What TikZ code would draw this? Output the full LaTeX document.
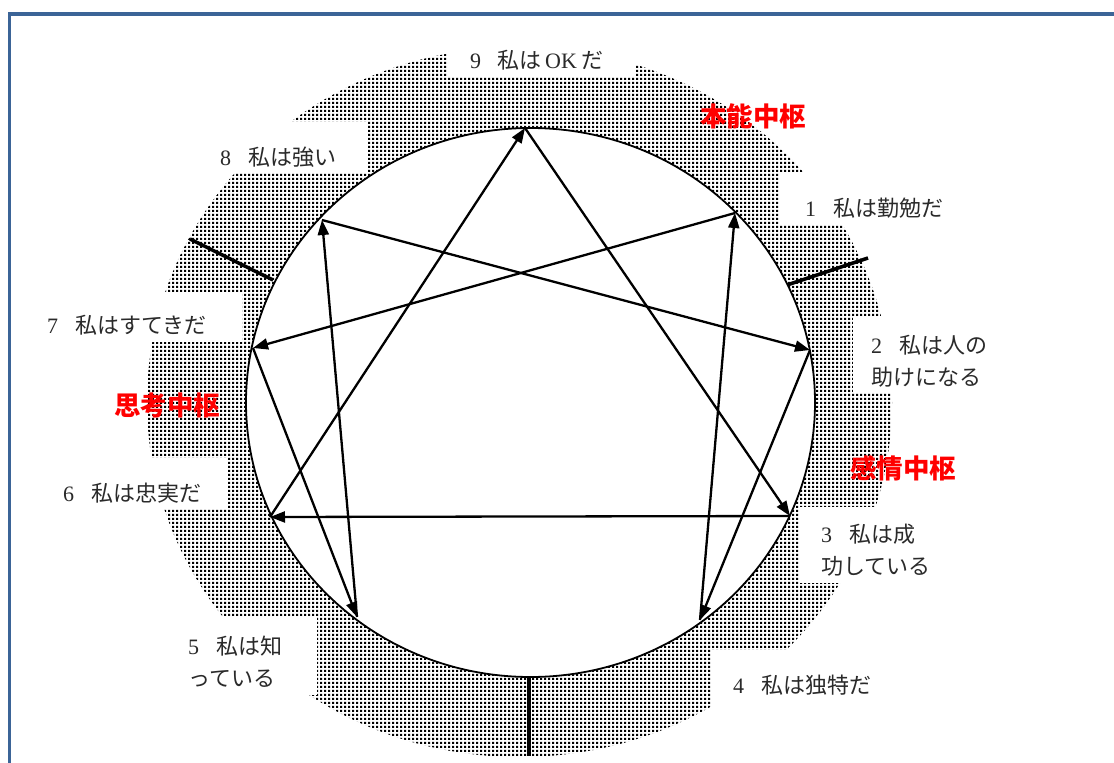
\documentclass[tikz,border=0pt]{standalone}
\usepackage{fontspec}
\newfontfamily\jpf{Noto Sans CJK JP}
\newfontfamily\numf{Liberation Serif}
\usetikzlibrary{arrows.meta,patterns}
\pgfdeclarepatternformonly{sqdots}{\pgfqpoint{0pt}{0pt}}{\pgfqpoint{3.7pt}{3.7pt}}{\pgfqpoint{3.7pt}{3.7pt}}{\pgfpathrectangle{\pgfqpoint{0pt}{0pt}}{\pgfqpoint{2.2pt}{2.2pt}}\pgfusepath{fill}}
\definecolor{frameblue}{HTML}{3B6497}
\definecolor{txt}{HTML}{2A2A2A}
\newcommand\dg[1]{{\numf #1}\hspace{17pt}}
\begin{document}
\begin{tikzpicture}[x=1pt,y=-1pt,
  lbl/.style={anchor=west,inner sep=0pt,text=txt,font=\jpf\fontsize{22}{32}\selectfont,align=left},
  ctr/.style={inner sep=0pt,text=red,font=\jpf\bfseries\fontsize{26.5}{30}\selectfont},
  arr/.style={line width=2.3pt,-{Triangle[length=15pt,width=11pt]}},
  sepline/.style={line width=3.5pt},
  gap/.style={fill=white,draw=none}]
\useasboundingbox (0,0) rectangle (1114,763);
\fill[white] (0,0) rectangle (1114,763);
% dotted ring
\fill[pattern=sqdots] (519.5,402) ellipse [x radius=372.5, y radius=355];
% white label areas
\fill[gap] (447,0) rectangle (635,77);
\fill[gap] (150,122) rectangle (367,173);
\fill[gap] (780,173) rectangle (1060,225);
\fill[gap] (853,317) rectangle (1060,393);
\fill[gap] (800,507) rectangle (1060,583);
\fill[gap] (712,650) rectangle (1060,763);
\fill[gap] (60,617) rectangle (317,695);
\fill[gap] (40,458) rectangle (227,509);
\fill[gap] (40,292) rectangle (242,342);
% frame
\draw[frameblue,line width=3.5pt] (9.5,763) -- (9.5,14) -- (1114,14);
% separators
\coordinate (s1a) at (273,280); \coordinate (s1b) at (190,239);
\coordinate (s2a) at (787,285); \coordinate (s2b) at (868,258);
\coordinate (s3a) at (529,672); \coordinate (s3b) at (529,756);
\draw[sepline] (s1a) -- (s1b);
\draw[sepline] (s2a) -- (s2b);
\draw[sepline] (s3a) -- (s3b);
% inner circle
\draw[line width=1.8pt,fill=white] (530.5,402.5) ellipse [x radius=284.5, y radius=274.5];
% points
\coordinate (p9) at (525,128);
\coordinate (p1) at (735,213);
\coordinate (p2) at (810,350);
\coordinate (p3) at (790,516);
\coordinate (p4) at (700,620);
\coordinate (p5) at (357,617);
\coordinate (p6) at (270,517);
\coordinate (p7) at (253,348);
\coordinate (p8) at (322,220);
% arrows
\draw[arr] (p6) -- (p9);
\draw[arr] (p9) -- (p3);
\draw[arr] (p3) -- (p6);
\draw[arr] (p1) -- (p7);
\draw[arr] (p7) -- (p5);
\draw[arr] (p5) -- (p8);
\draw[arr] (p8) -- (p2);
\draw[arr] (p2) -- (p4);
\draw[arr] (p4) -- (p1);
% labels
\node[lbl] (l9) at (470,60) {\dg{9}\hspace{-1pt}私は\hspace{4pt}{\numf OK}\hspace{5pt}だ};
\node[lbl] (l8) at (220,157) {\dg{8}私は強い};
\node[lbl] (l1) at (805,208) {\dg{1}私は勤勉だ};
\node[lbl] (l2) at (871,361) {\dg{2}私は人の\\助けになる};
\node[lbl] (l3) at (821,550) {\dg{3}私は成\\功している};
\node[lbl] (l4) at (733,685) {\dg{4}私は独特だ};
\node[lbl] (l5) at (188,662) {\dg{5}私は知\\っている};
\node[lbl] (l6) at (63,493) {\dg{6}私は忠実だ};
\node[lbl] (l7) at (47,325) {\dg{7}私はすてきだ};
\node[ctr] (c1) at (753,116) {本能中枢};
\node[ctr] (c2) at (903,468) {感情中枢};
\node[ctr] (c3) at (167,405) {思考中枢};
\end{tikzpicture}
\end{document}
